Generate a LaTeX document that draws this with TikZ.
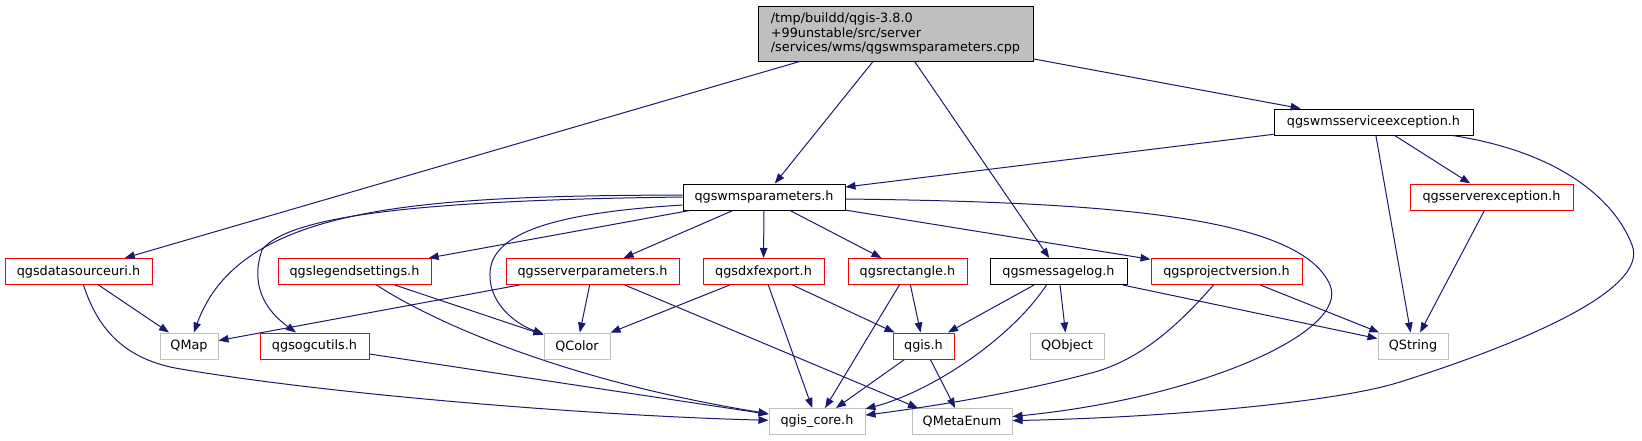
\documentclass[tikz,border=0pt]{standalone}
\usepackage{fontspec}
\setmainfont{DejaVu Sans}
\usetikzlibrary{arrows.meta}
\definecolor{DOX-EDGE}{RGB}{25, 25, 112}
\definecolor{DOX-RED}{RGB}{255, 0, 0}
\definecolor{DOX-GRAY}{RGB}{191, 191, 191}

\begin{document}
\begin{tikzpicture}[x=1pt, y=-1pt,
    box/.style={draw, line width=1pt, minimum height=26pt, inner sep=0pt,
      font=\fontsize{12.8}{14.3}\selectfont},
    blkbox/.style={box, draw=black},
    redbox/.style={box, draw=DOX-RED},
    graybox/.style={box, draw=DOX-GRAY},
    dep/.style={draw=DOX-EDGE, line width=1pt, -{Triangle[length=10pt, width=7.5pt]}}]
  \useasboundingbox (0,0) rectangle (1642,440);

  % Top file
  \node[box, draw=black, fill=DOX-GRAY, align=left, minimum width=275pt, minimum height=55pt]
    (root) at (895.5,33.5) {/tmp/buildd/qgis-3.8.0\\+99unstable/src/server\\/services/wms/qgswmsparameters.cpp};

  % Headers
  \node[blkbox, minimum width=199pt] (wse) at (1373.5,122) {qgswmsserviceexception.h};
  \node[blkbox, minimum width=162pt] (wmsp) at (764,197) {qgswmsparameters.h};
  \node[redbox, minimum width=163pt] (srvexc) at (1491.5,197) {qgsserverexception.h};

  \node[redbox, minimum width=147pt] (dsuri) at (78.5,271.5) {qgsdatasourceuri.h};
  \node[redbox, minimum width=153pt] (legend) at (354.5,271.5) {qgslegendsettings.h};
  \node[redbox, minimum width=173pt] (srvpar) at (592.5,271.5) {qgsserverparameters.h};
  \node[redbox, minimum width=121pt] (dxf) at (763.5,271.5) {qgsdxfexport.h};
  \node[redbox, minimum width=119pt] (rect) at (907.5,271.5) {qgsrectangle.h};
  \node[blkbox, minimum width=137pt] (msglog) at (1058.5,271.5) {qgsmessagelog.h};
  \node[redbox, minimum width=151pt] (projver) at (1226.5,271.5) {qgsprojectversion.h};

  \node[graybox, minimum width=58pt] (qmap) at (189,346) {QMap};
  \node[redbox, minimum width=109pt] (ogc) at (314.5,346) {qgsogcutils.h};
  \node[graybox, minimum width=66pt] (qcolor) at (577,346) {QColor};
  \node[redbox, minimum width=61pt] (qgish) at (923.5,346) {qgis.h};
  \node[graybox, minimum width=74pt] (qobject) at (1067,346) {QObject};
  \node[graybox, minimum width=70pt] (qstring) at (1413,346) {QString};

  \node[graybox, minimum width=96pt] (core) at (817,421.5) {qgis\_core.h};
  \node[graybox, minimum width=100pt] (metaenum) at (962,421.5) {QMetaEnum};

  % Includes of the top file
  \draw[dep] (root) -- (dsuri);
  \draw[dep] (root) -- (wmsp);
  \draw[dep] (root) -- (msglog);
  \draw[dep] (root) -- (wse);

  % qgswmsserviceexception.h
  \draw[dep] (wse) -- (wmsp);
  \draw[dep] (wse) -- (srvexc);
  \draw[dep] (wse) -- (qstring);
  \draw[dep] ([xshift=-21pt]wse.south east) .. controls (1560,152) and (1615,200) .. (1632,245)
    .. controls (1650,290) and (1520,344) .. (1400,382)
    .. controls (1330,404) and (1150,418) .. (metaenum);
  \draw[dep] (srvexc) -- (qstring);

  % qgswmsparameters.h
  \draw[dep] ([yshift=2pt]wmsp.west) .. controls (420,196) and (240,205) .. (qmap);
  \draw[dep] (wmsp.west) .. controls (450,200) and (290,212) .. (262,250)
    .. controls (250,285) and (265,310) .. (ogc);
  \draw[dep] ([yshift=-8pt]wmsp.west) .. controls (570,212) and (505,228) .. (492,262)
    .. controls (482,295) and (510,322) .. (qcolor);
  \draw[dep] (wmsp) -- (legend);
  \draw[dep] (wmsp) -- (srvpar);
  \draw[dep] (wmsp) -- (dxf);
  \draw[dep] (wmsp) -- (rect);
  \draw[dep] (wmsp) -- (projver);
  \draw[dep] ([yshift=-2pt]wmsp.east) .. controls (1100,202) and (1300,215) .. (1330,285)
    .. controls (1350,332) and (1200,398) .. (metaenum);

  % Third row
  \draw[dep] (dsuri) -- (qmap);
  \draw[dep] ([xshift=5pt]dsuri.south) .. controls (98,330) and (125,358) .. (175,368)
    .. controls (330,395) and (600,416) .. (core);
  \draw[dep] (legend) -- (qcolor);
  \draw[dep] ([xshift=22pt]legend.south) .. controls (430,320) and (560,380) .. (core);
  \draw[dep] (srvpar) -- (qmap);
  \draw[dep] (srvpar) -- (qcolor);
  \draw[dep] (srvpar) -- ([xshift=-44pt]metaenum.north);
  \draw[dep] (dxf) -- (qcolor);
  \draw[dep] (dxf) -- (core);
  \draw[dep] (dxf) -- (qgish);
  \draw[dep] (rect) -- (core);
  \draw[dep] (rect) -- (qgish);
  \draw[dep] (msglog) -- (qgish);
  \draw[dep] ([xshift=-12pt]msglog.south) .. controls (1010,340) and (930,392) .. (core);
  \draw[dep] (msglog) -- (qobject);
  \draw[dep] (msglog) -- (qstring);
  \draw[dep] ([xshift=-13pt]projver.south) .. controls (1170,335) and (1135,360) .. (1095,372)
    .. controls (1010,395) and (920,408) .. (core);
  \draw[dep] (projver) -- (qstring);

  % Fourth row
  \draw[dep] ([yshift=-8pt]ogc.east) -- (core);
  \draw[dep] (qgish) -- (core);
  \draw[dep] (qgish) -- (metaenum);
\end{tikzpicture}
\end{document}
